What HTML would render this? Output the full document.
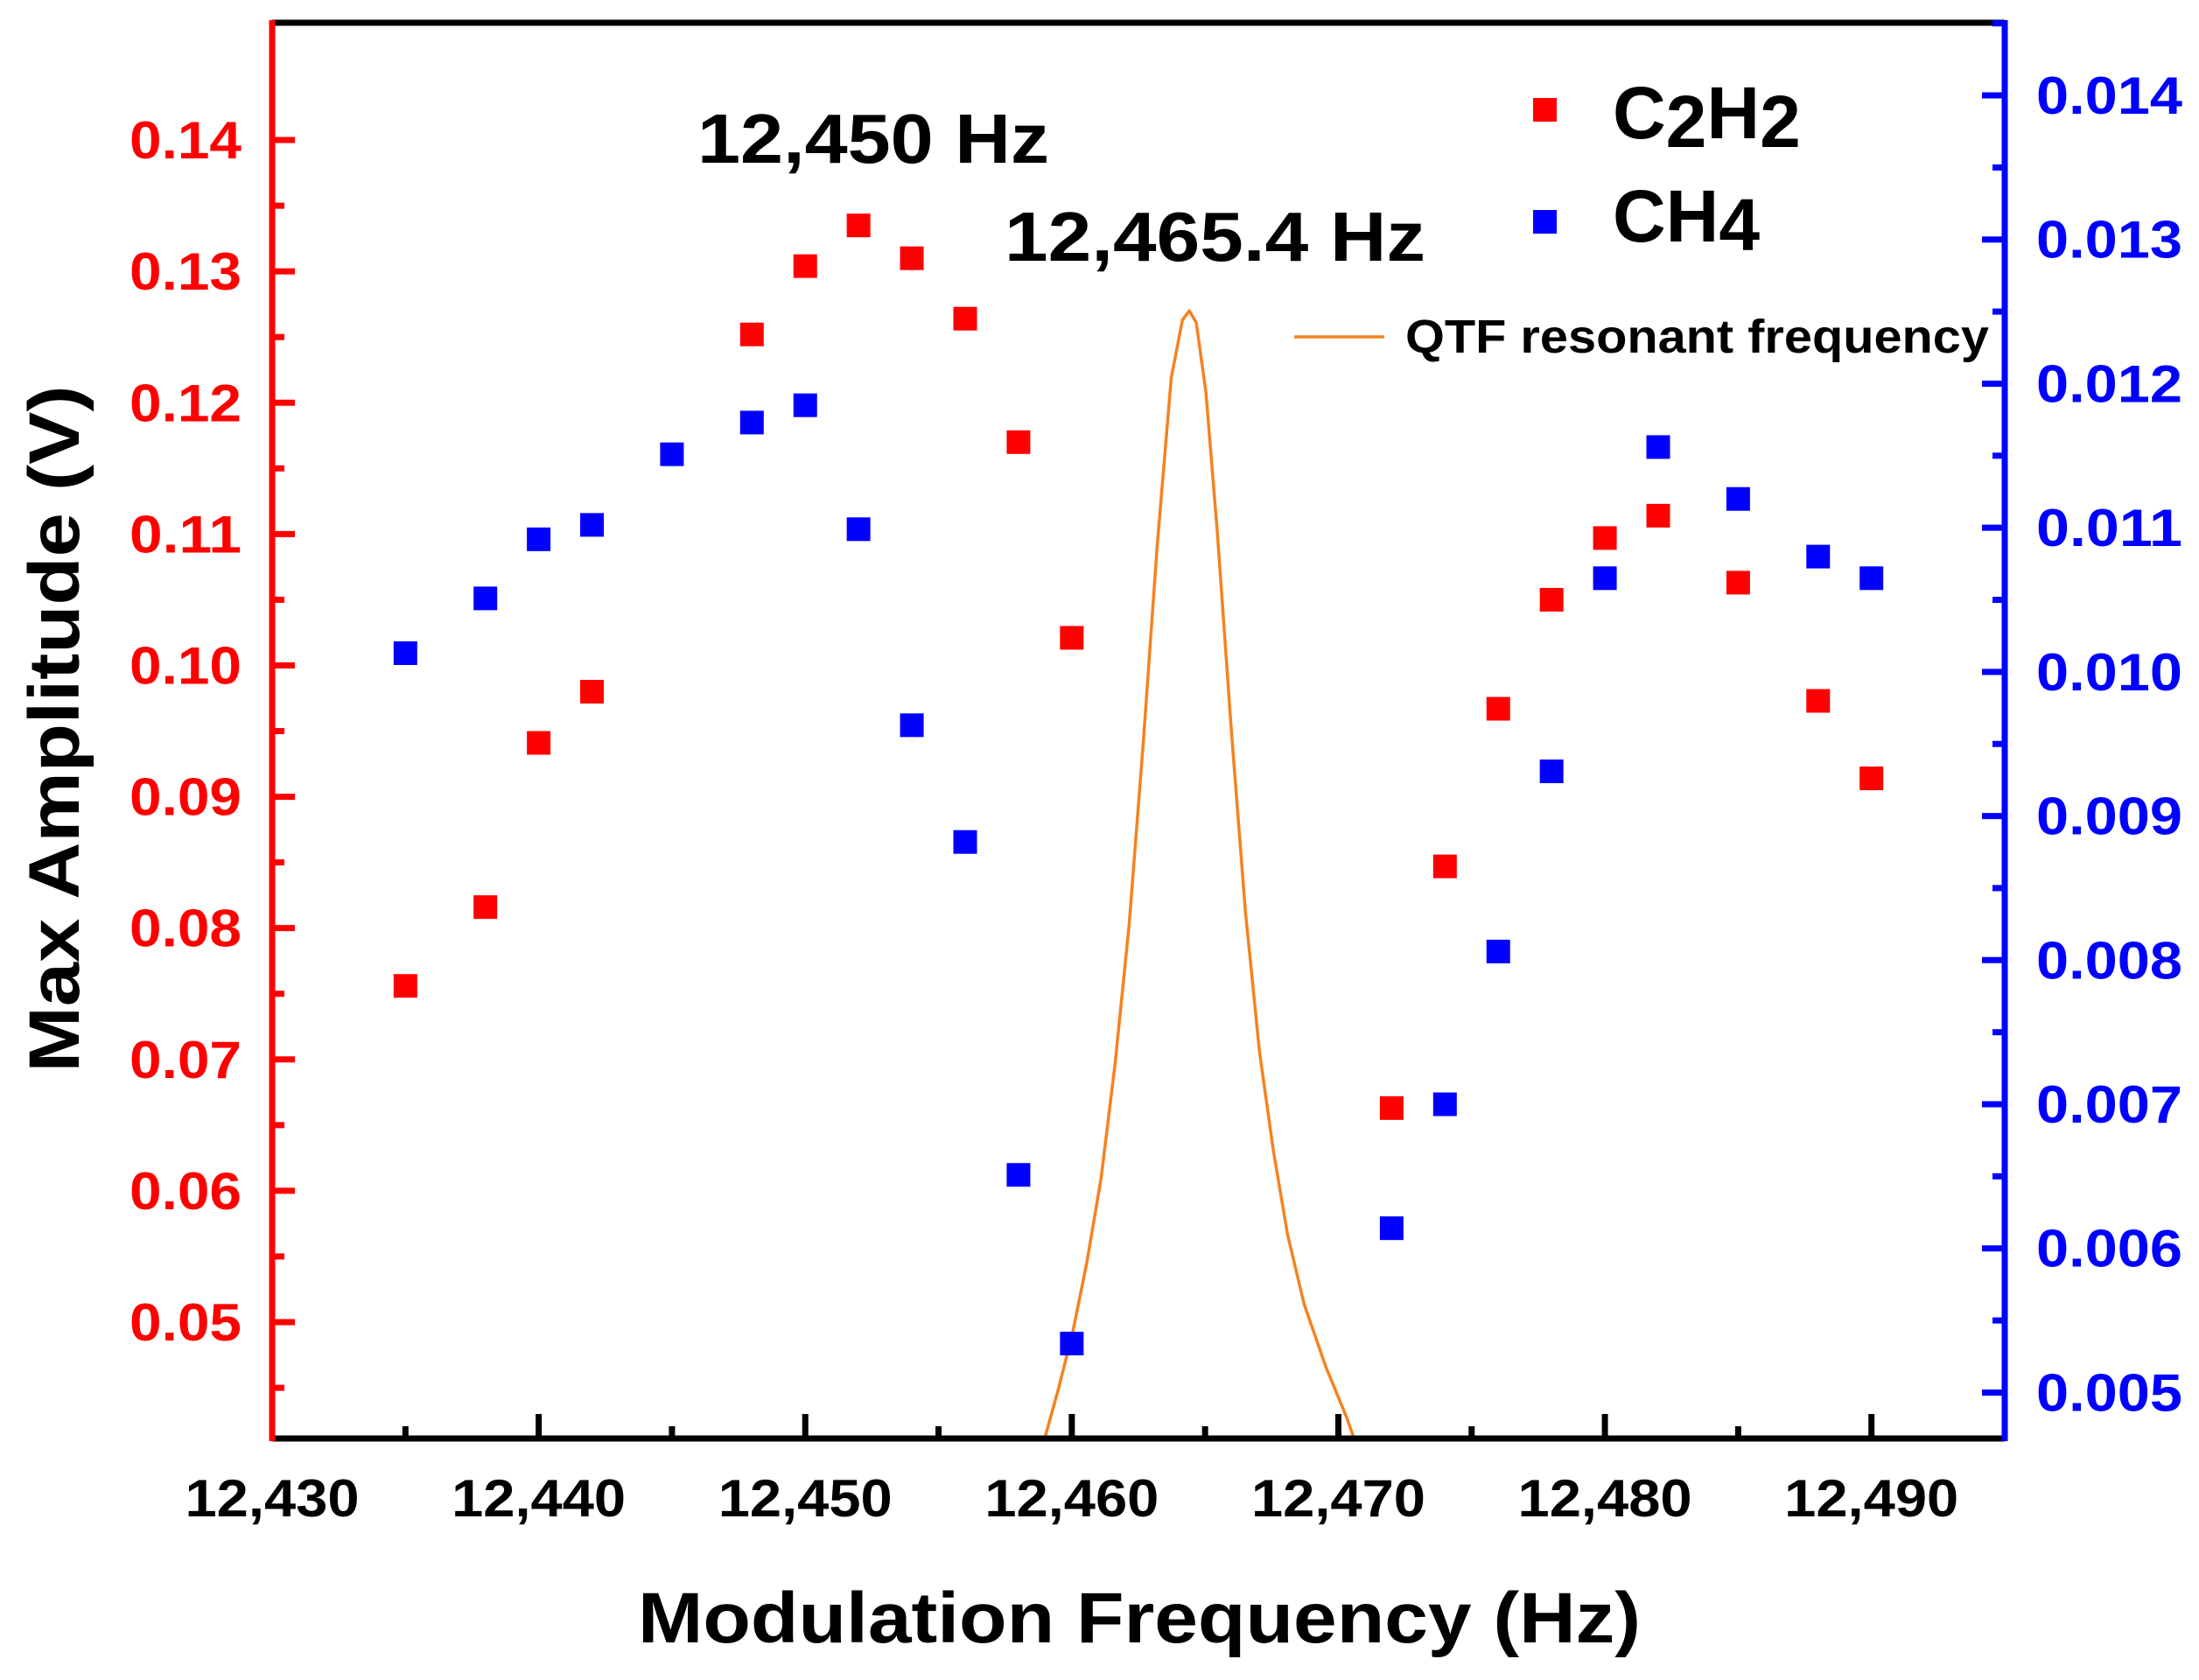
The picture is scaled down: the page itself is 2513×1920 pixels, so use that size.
<!DOCTYPE html>
<html><head><meta charset="utf-8"><style>
html,body{margin:0;padding:0;background:#fff}
svg{display:block}
text{font-family:"Liberation Sans",Arial,sans-serif;font-weight:bold}
</style></head><body>
<svg id="chart" width="2513" height="1920" viewBox="0 0 2513 1920" xmlns="http://www.w3.org/2000/svg"></svg>
<script>
const freqC2H2 = [12435,12438,12440,12442,12448,12450,12452,12454,12456,12458,12460,12472,12474,12476,12478,12480,12482,12485,12488,12490];
const ampC2H2 = [0.0756,0.0816,0.0941,0.0980,0.1252,0.1304,0.1335,0.1310,0.1264,0.1170,0.1021,0.0663,0.0847,0.0967,0.1050,0.1097,0.1114,0.1063,0.0973,0.0914];
const freqCH4 = [12435,12438,12440,12442,12445,12448,12450,12452,12454,12456,12458,12460,12472,12474,12476,12478,12480,12482,12485,12488,12490];
const ampCH4 = [0.01013,0.01051,0.01092,0.01102,0.01151,0.01173,0.01185,0.01099,0.00963,0.00882,0.00651,0.00534,0.00614,0.00700,0.00806,0.00931,0.01065,0.01156,0.01120,0.01080,0.01065];
const qtfFreq = [12458.99,12459.51,12460.04,12460.57,12461.10,12461.62,12462.15,12462.68,12463.20,12463.73,12464.15,12464.41,12464.67,12465.03,12465.46,12465.98,12466.51,12467.04,12467.56,12468.09,12468.71,12469.53,12470.30,12470.58];
const qtfAmp = [0.0412,0.0450,0.0493,0.0546,0.0610,0.0696,0.0802,0.0941,0.1090,0.1219,0.1263,0.1270,0.1261,0.1208,0.1101,0.0952,0.0813,0.0706,0.0631,0.0567,0.0514,0.0466,0.0428,0.0412];
const xTicks = [12430,12440,12450,12460,12470,12480,12490];
const xTickLabels = ["12,430","12,440","12,450","12,460","12,470","12,480","12,490"];
const yLeftTicks = [0.05,0.06,0.07,0.08,0.09,0.10,0.11,0.12,0.13,0.14];
const yLeftLabels = ["0.05","0.06","0.07","0.08","0.09","0.10","0.11","0.12","0.13","0.14"];
const yRightTicks = [0.005,0.006,0.007,0.008,0.009,0.010,0.011,0.012,0.013,0.014];
const yRightLabels = ["0.005","0.006","0.007","0.008","0.009","0.010","0.011","0.012","0.013","0.014"];

const PL=311,PR=2291,PT=26,PB=1644;
const X0=12430,X1=12495;
const YL0=0.04114,YL1=0.14893;
const YR0=0.004681,YR1=0.014504;
const xs=v=>PL+(v-X0)/(X1-X0)*(PR-PL);
const yl=v=>PB-(v-YL0)/(YL1-YL0)*(PB-PT);
const yr=v=>PB-(v-YR0)/(YR1-YR0)*(PB-PT);
const NS="http://www.w3.org/2000/svg";
const svgEl=document.getElementById('chart');
function mk(tag,attrs,parent){const e=document.createElementNS(NS,tag);for(const k in attrs)e.setAttribute(k,attrs[k]);(parent||svgEl).appendChild(e);return e;}

const defsEl=mk('defs',{});
const cpEl=mk('clipPath',{id:'clip'},defsEl);
mk('rect',{x:PL,y:PT,width:PR-PL,height:PB-PT},cpEl);

let d='';
qtfFreq.forEach((f,i)=>{d+=(i?'L':'M')+xs(f).toFixed(1)+','+yl(qtfAmp[i]).toFixed(1);});
const curve=mk('path',{d:d,fill:'none',stroke:'#f58220','stroke-width':3.5,'stroke-linejoin':'round','clip-path':'url(#clip)'});



const S=27;
freqCH4.forEach((f,i)=>{
  const r=mk('rect',{x:xs(f)-S/2,y:yr(ampCH4[i])-S/2,width:S,height:S,fill:'#0000ff'});
  
  
});
freqC2H2.forEach((f,i)=>{
  const r=mk('rect',{x:xs(f)-S/2,y:yl(ampC2H2[i])-S/2,width:S,height:S,fill:'#ff0000'});
  
  
});

const topAxis=mk('line',{x1:PL,y1:PT,x2:PR,y2:PT,stroke:'#000','stroke-width':7});


const botAxis=mk('line',{x1:PL,y1:PB,x2:PR,y2:PB,stroke:'#000','stroke-width':7});


const leftAxis=mk('line',{x1:PL,y1:PT-3,x2:PL,y2:PB+3,stroke:'#ff0000','stroke-width':7});


const rightAxis=mk('line',{x1:PR,y1:PT-3,x2:PR,y2:PB+3,stroke:'#0000ff','stroke-width':7});



for(let v=12435;v<=12490;v+=5){
  const major=(v%10===0);
  mk('line',{x1:xs(v),y1:PB,x2:xs(v),y2:PB-(major?28:14),stroke:'#000','stroke-width':7});
}
xTicks.forEach((v,i)=>{
  const t=mk('text',{x:xs(v),y:1733,'text-anchor':'middle','font-size':60,fill:'#000',textLength:199,lengthAdjust:'spacingAndGlyphs'});
  t.textContent=xTickLabels[i];
  
  
});
for(let k=0;k<=19;k++){
  const v=0.045+k*0.005; const major=(k%2===1);
  if(yl(v)<PT||yl(v)>PB) continue;
  mk('line',{x1:PL,y1:yl(v),x2:PL+(major?26:14),y2:yl(v),stroke:'#ff0000','stroke-width':7});
}
yLeftTicks.forEach((v,i)=>{
  const t=mk('text',{x:276,y:yl(v)+21,'text-anchor':'end','font-size':60,fill:'#ff0000',textLength:128,lengthAdjust:'spacingAndGlyphs'});
  t.textContent=yLeftLabels[i];
  
  
});
for(let k=0;k<=20;k++){
  const v=0.0045+k*0.0005; const major=(k%2===1);
  if(yr(v)<PT||yr(v)>PB) continue;
  mk('line',{x1:PR,y1:yr(v),x2:PR-(major?26:14),y2:yr(v),stroke:'#0000ff','stroke-width':7});
}
yRightTicks.forEach((v,i)=>{
  const t=mk('text',{x:2327,y:yr(v)+21,'text-anchor':'start','font-size':60,fill:'#0000ff',textLength:167,lengthAdjust:'spacingAndGlyphs'});
  t.textContent=yRightLabels[i];
  
  
});
</script>
<svg style="position:absolute;left:0;top:0" width="2513" height="1920">
<text transform="translate(90,833) rotate(-90)" text-anchor="middle" font-size="82" textLength="785" lengthAdjust="spacingAndGlyphs" fill="#000">Max Amplitude (V)</text>
<text x="1302" y="1877" text-anchor="middle" font-size="82" textLength="1146" lengthAdjust="spacingAndGlyphs" fill="#000">Modulation Frequency (Hz)</text>
<text x="797" y="186" font-size="80" textLength="402" lengthAdjust="spacingAndGlyphs" fill="#000">12,450 Hz</text>
<text x="1148" y="298" font-size="80" textLength="481" lengthAdjust="spacingAndGlyphs" fill="#000">12,465.4 Hz</text>
<rect x="1752" y="112" width="27" height="27" fill="#ff0000"/>
<text x="1843" y="158" font-size="84" fill="#000">C<tspan dy="10">2</tspan><tspan dy="-10">H</tspan><tspan dy="10">2</tspan></text>
<rect x="1752" y="240" width="27" height="27" fill="#0000ff"/>
<text x="1843" y="276" font-size="84" fill="#000">CH<tspan dy="10">4</tspan></text>
<line x1="1479" y1="385" x2="1582" y2="385" stroke="#f58220" stroke-width="3.5"/>
<text x="1606" y="403" font-size="54" textLength="667" lengthAdjust="spacingAndGlyphs" fill="#000">QTF resonant frequency</text>
</svg>
</body></html>
